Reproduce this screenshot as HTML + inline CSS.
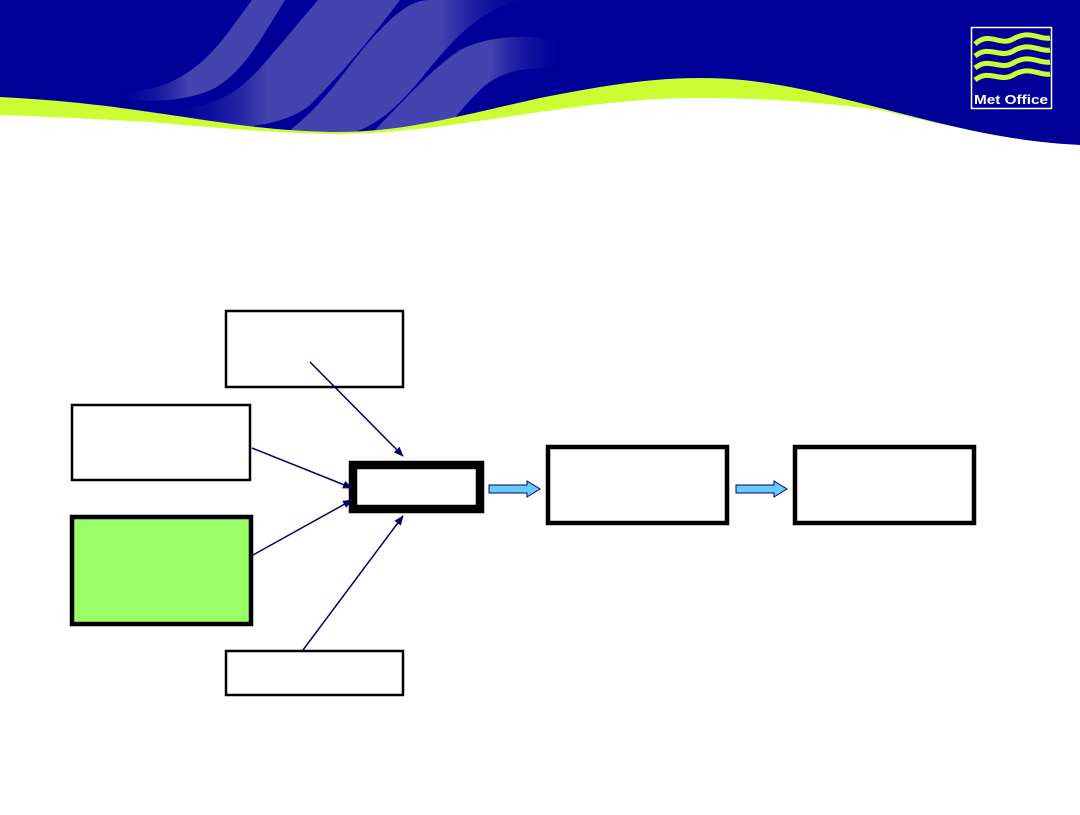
<!DOCTYPE html>
<html><head><meta charset="utf-8"><style>html,body{margin:0;padding:0;background:#fff}</style></head>
<body>
<svg width="1080" height="810" viewBox="0 0 1080 810" xmlns="http://www.w3.org/2000/svg">
<defs>
<linearGradient id="ga" x1="0" x2="1"><stop offset="0" stop-color="#000099" stop-opacity="0"/><stop offset="0.45" stop-color="#4444b0"/><stop offset="1" stop-color="#4444b0"/></linearGradient>
<linearGradient id="gb" x1="0" x2="1"><stop offset="0" stop-color="#4444b0"/><stop offset="0.6" stop-color="#4444b0"/><stop offset="1" stop-color="#000099" stop-opacity="0"/></linearGradient>
<marker id="ah" markerWidth="10" markerHeight="8" refX="9" refY="4" orient="auto" markerUnits="userSpaceOnUse"><path d="M0,0 L10,4 L0,8 z" fill="#000066"/></marker>
</defs>
<rect x="0" y="0" width="1080" height="150" fill="#000099"/>
<!-- light stripes -->
<path d="M110,93 C170,93 200,70 230,30 L252,0 H285 C260,40 245,70 215,88 C180,105 140,100 110,100 Z" fill="url(#ga)"/>
<path d="M160,110 C230,110 250,80 280,45 L318,0 H400 C370,40 340,75 310,105 C280,130 220,130 160,130 Z" fill="url(#ga)"/>
<path d="M270,0 H400 L360,0 Z" fill="#4444b0"/>
<path d="M290,130 C330,100 350,60 380,30 C395,15 410,0 430,0 H540 C490,0 460,30 420,80 C395,110 370,132 340,135 Z" fill="url(#gb)"/>
<path d="M370,135 C400,105 430,70 460,50 C490,35 520,35 560,40 L570,70 C530,65 500,70 480,90 C460,110 450,125 440,135 Z" fill="url(#gb)"/>
<!-- white lower area with green band -->
<path d="M0,97 C60,100 110,106 150,112 C220,122 260,130 330,132 C400,133 450,118 540,98 C600,86 650,78 700,78 C760,78 810,90 880,108 C950,126 1010,142 1080,145 V810 H0 Z" fill="#ccff33"/>
<path d="M0,115 C60,117 110,120 150,122 C220,128 260,132 330,134 C400,134 450,125 540,112 C600,103 650,98 700,98 C760,98 820,102 880,110 C950,126 1010,142 1080,145 V810 H0 Z" fill="#fff"/>
<!-- logo -->
<rect x="971.5" y="27.5" width="80" height="81" fill="#000099" stroke="#fff" stroke-width="1.5"/>
<g fill="none" stroke="#ccff33" stroke-width="5">
<path d="M975,44 C990,30 1000,48 1015,38 C1030,30 1040,40 1050,38"/>
<path d="M975,56 C990,44 1000,60 1015,50 C1030,42 1040,52 1050,50"/>
<path d="M975,68 C990,56 1000,72 1015,62 C1030,54 1040,64 1050,62"/>
<path d="M975,80 C990,68 1000,84 1015,74 C1030,66 1040,76 1050,74"/>
</g>
<text x="1011" y="104" font-family="Liberation Sans, sans-serif" font-weight="bold" font-size="13" fill="#fff" text-anchor="middle" textLength="74" lengthAdjust="spacingAndGlyphs">Met Office</text>
<!-- boxes -->
<rect x="226" y="311" width="177" height="76" fill="#fff" stroke="#000" stroke-width="2.5"/>
<rect x="72" y="405" width="178" height="75" fill="#fff" stroke="#000" stroke-width="2.5"/>
<rect x="72" y="517" width="179" height="107" fill="#99ff66" stroke="#000" stroke-width="4.5"/>
<rect x="226" y="651" width="177" height="44" fill="#fff" stroke="#000" stroke-width="2.5"/>
<rect x="353" y="465" width="127" height="44" fill="#fff" stroke="#000" stroke-width="8.5"/>
<rect x="548" y="447" width="179" height="76" fill="#fff" stroke="#000" stroke-width="4.5"/>
<rect x="795" y="447" width="179" height="76" fill="#fff" stroke="#000" stroke-width="4.5"/>
<g stroke="#000066" stroke-width="1.5" marker-end="url(#ah)">
<line x1="310" y1="362" x2="403" y2="456"/>
<line x1="252" y1="448" x2="352" y2="488"/>
<line x1="253" y1="555" x2="352" y2="500"/>
<line x1="303" y1="650" x2="403" y2="516"/>
</g>
<path d="M489,485 H527 V481 L540,489 L527,497 V493 H489 Z" fill="#66ccff" stroke="#000066" stroke-width="1"/>
<path d="M736,485 H774 V481 L787,489 L774,497 V493 H736 Z" fill="#66ccff" stroke="#000066" stroke-width="1"/>
</svg>
</body></html>
